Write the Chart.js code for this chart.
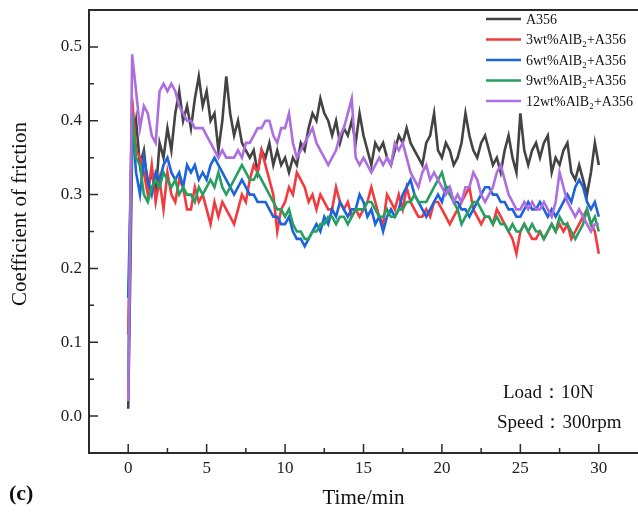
<!DOCTYPE html>
<html>
<head>
<meta charset="utf-8">
<script src="https://cdn.jsdelivr.net/npm/chart.js@4"></script>
<style>
  body { margin: 0; background: #fff; }
</style>
</head>
<body>
<canvas id="frictionChart" width="638" height="516"></canvas>
<script>
  // time step of the recorded curves (min)
  const stepMin = 0.25;

  const seriesNames = ["A356", "3wt%AlB\u2082+A356", "6wt%AlB\u2082+A356", "9wt%AlB\u2082+A356", "12wt%AlB\u2082+A356"];
  const seriesColors = ["#434343", "#f23a3f", "#1c63dc", "#25a05f", "#ad6fe0"];

  const a356 = [
    0.01, 0.36, 0.40, 0.34, 0.36, 0.31, 0.33, 0.30,
    0.37, 0.35, 0.39, 0.36, 0.41, 0.44, 0.40, 0.42,
    0.39, 0.43, 0.46, 0.42, 0.44, 0.40, 0.41, 0.36,
    0.40, 0.46, 0.41, 0.38, 0.40, 0.37, 0.36, 0.35,
    0.36, 0.33, 0.36, 0.35, 0.37, 0.34, 0.36, 0.34,
    0.35, 0.33, 0.35, 0.34, 0.37, 0.36, 0.39, 0.41,
    0.40, 0.43, 0.41, 0.40, 0.38, 0.40, 0.37, 0.39,
    0.38, 0.40, 0.37, 0.41, 0.38, 0.36, 0.34, 0.37,
    0.36, 0.37, 0.35, 0.34, 0.36, 0.38, 0.37, 0.39,
    0.37, 0.36, 0.35, 0.34, 0.37, 0.38, 0.41, 0.36,
    0.35, 0.37, 0.36, 0.34, 0.35, 0.37, 0.41, 0.38,
    0.36, 0.35, 0.37, 0.38, 0.36, 0.34, 0.35, 0.33,
    0.36, 0.38, 0.35, 0.33, 0.41, 0.36, 0.34, 0.36,
    0.37, 0.35, 0.37, 0.38, 0.33, 0.35, 0.34, 0.36,
    0.37, 0.33, 0.32, 0.34, 0.32, 0.30, 0.33, 0.37,
    0.34
  ];
  const alb3 = [
    0.11, 0.43, 0.36, 0.35, 0.33, 0.30, 0.34, 0.29,
    0.32, 0.28, 0.33, 0.30, 0.29, 0.32, 0.31, 0.28,
    0.28, 0.31, 0.29, 0.30, 0.28, 0.26, 0.29, 0.27,
    0.29, 0.28, 0.27, 0.26, 0.28, 0.30, 0.29, 0.32,
    0.34, 0.33, 0.36, 0.34, 0.32, 0.30, 0.25, 0.28,
    0.29, 0.31, 0.30, 0.33, 0.32, 0.31, 0.29, 0.30,
    0.28, 0.30, 0.29, 0.28, 0.28, 0.31, 0.29, 0.28,
    0.29, 0.27, 0.28, 0.27, 0.28, 0.29, 0.31, 0.29,
    0.27, 0.26, 0.30, 0.29, 0.28, 0.30, 0.28, 0.31,
    0.29, 0.28, 0.27, 0.27, 0.28, 0.27, 0.29, 0.29,
    0.28, 0.27, 0.26, 0.27, 0.28, 0.29, 0.30, 0.31,
    0.28, 0.27, 0.26, 0.27, 0.27, 0.26, 0.28, 0.27,
    0.26, 0.25, 0.24, 0.22, 0.25, 0.26, 0.25, 0.24,
    0.24, 0.25, 0.24, 0.25, 0.26, 0.25, 0.26, 0.25,
    0.26, 0.24, 0.25, 0.26, 0.27, 0.28, 0.26, 0.25,
    0.22
  ];
  const alb6 = [
    0.16, 0.40, 0.33, 0.30, 0.35, 0.32, 0.30, 0.33,
    0.32, 0.34, 0.35, 0.33, 0.32, 0.33, 0.31, 0.34,
    0.33, 0.34, 0.32, 0.33, 0.32, 0.34, 0.35, 0.34,
    0.33, 0.32, 0.31, 0.30, 0.31, 0.32, 0.31, 0.30,
    0.30, 0.29, 0.29, 0.29, 0.28, 0.27, 0.27, 0.26,
    0.26, 0.27, 0.25, 0.24, 0.24, 0.23, 0.24, 0.25,
    0.26, 0.25, 0.27, 0.26, 0.28, 0.27, 0.29, 0.28,
    0.27, 0.28, 0.28, 0.30, 0.29, 0.27, 0.28, 0.26,
    0.27, 0.25, 0.27, 0.28, 0.27, 0.28, 0.30, 0.31,
    0.32, 0.30, 0.29, 0.28, 0.27, 0.28, 0.29, 0.30,
    0.29, 0.31, 0.31, 0.29, 0.29, 0.28, 0.28, 0.27,
    0.28, 0.29, 0.30, 0.31, 0.31, 0.30, 0.30, 0.29,
    0.29, 0.28, 0.28, 0.27, 0.27, 0.28, 0.29, 0.28,
    0.28, 0.29, 0.28, 0.27, 0.28, 0.27, 0.28, 0.29,
    0.30, 0.29, 0.31, 0.32, 0.31, 0.29, 0.28, 0.29,
    0.27
  ];
  const alb9 = [
    0.05, 0.41, 0.35, 0.34, 0.30, 0.29, 0.31, 0.32,
    0.31, 0.33, 0.32, 0.31, 0.32, 0.30, 0.31, 0.30,
    0.30, 0.29, 0.31, 0.30, 0.31, 0.32, 0.31, 0.33,
    0.31, 0.30, 0.31, 0.32, 0.33, 0.34, 0.33, 0.32,
    0.32, 0.33, 0.32, 0.31, 0.30, 0.29, 0.28, 0.28,
    0.27, 0.28, 0.26, 0.25, 0.25, 0.24, 0.24, 0.25,
    0.25, 0.26, 0.26, 0.27, 0.27, 0.26, 0.27, 0.27,
    0.26, 0.27, 0.28, 0.28, 0.28, 0.29, 0.29, 0.28,
    0.27, 0.27, 0.28, 0.27, 0.27, 0.28, 0.28, 0.29,
    0.29, 0.30, 0.29, 0.29, 0.29, 0.30, 0.31, 0.32,
    0.33, 0.31, 0.30, 0.29, 0.28, 0.26, 0.27, 0.28,
    0.29, 0.29, 0.28, 0.27, 0.27, 0.26, 0.27, 0.26,
    0.26, 0.25, 0.26, 0.25, 0.25, 0.26, 0.25, 0.26,
    0.25, 0.25, 0.24, 0.25, 0.26, 0.25, 0.27, 0.26,
    0.26, 0.25, 0.24, 0.25, 0.26, 0.28, 0.26, 0.27,
    0.25
  ];
  const alb12 = [
    0.02, 0.49, 0.44, 0.39, 0.42, 0.41, 0.38, 0.37,
    0.44, 0.45, 0.44, 0.45, 0.44, 0.42, 0.41, 0.40,
    0.40, 0.39, 0.39, 0.39, 0.38, 0.37, 0.36, 0.35,
    0.36, 0.35, 0.35, 0.35, 0.36, 0.35, 0.37, 0.37,
    0.38, 0.39, 0.39, 0.40, 0.40, 0.38, 0.37, 0.39,
    0.39, 0.41, 0.37, 0.35, 0.36, 0.37, 0.38, 0.39,
    0.37, 0.36, 0.35, 0.34, 0.35, 0.36, 0.38, 0.39,
    0.41, 0.43, 0.35, 0.34, 0.35, 0.34, 0.33, 0.34,
    0.35, 0.34, 0.35, 0.34, 0.37, 0.36, 0.37, 0.35,
    0.33, 0.32, 0.31, 0.33, 0.34, 0.32, 0.33, 0.32,
    0.31, 0.30, 0.31, 0.29, 0.30, 0.29, 0.31, 0.31,
    0.33, 0.32, 0.30, 0.29, 0.30, 0.31, 0.33, 0.34,
    0.32, 0.30, 0.29, 0.28, 0.28, 0.29, 0.28, 0.29,
    0.28, 0.28, 0.29, 0.28, 0.27, 0.29, 0.33, 0.31,
    0.29, 0.28, 0.27, 0.28, 0.27, 0.26, 0.25, 0.26,
    0.26
  ];

  const xTicks = [0, 5, 10, 15, 20, 25, 30];
  const xMinorTicks = [2.5, 7.5, 12.5, 17.5, 22.5, 27.5];
  const yTicks = [0, 0.1, 0.2, 0.3, 0.4, 0.5];
  const yMinorTicks = [0.05, 0.15, 0.25, 0.35, 0.45];

  const allSeries = [a356, alb3, alb6, alb9, alb12];
  const serif = "'Liberation Serif', 'Times New Roman', serif";
  const axisColor = "#2b2b2b";

  function toPoints(vals) {
    return vals.map((v, i) => ({ x: i * stepMin, y: v }));
  }

  const datasets = allSeries.map((vals, k) => ({
    label: seriesNames[k],
    data: toPoints(vals),
    borderColor: seriesColors[k],
    borderWidth: 2.6,
    pointRadius: 0,
    tension: 0,
    fill: false,
    order: allSeries.length - k   // last series drawn on top
  }));

  // frame top line, inward ticks, legend, notes and titles
  const decorPlugin = {
    id: 'decor',
    afterDraw(chart) {
      const ctx = chart.ctx;
      const area = chart.chartArea;
      const xs = chart.scales.x, ys = chart.scales.y;
      ctx.save();
      ctx.strokeStyle = axisColor;
      ctx.lineWidth = 2;
      ctx.beginPath();
      ctx.moveTo(area.left - 1, area.top);
      ctx.lineTo(area.right + 2, area.top);
      ctx.stroke();

      ctx.lineWidth = 1.5;
      ctx.beginPath();
      xTicks.forEach(v => { const px = xs.getPixelForValue(v); ctx.moveTo(px, area.bottom); ctx.lineTo(px, area.bottom - 9); });
      xMinorTicks.forEach(v => { const px = xs.getPixelForValue(v); ctx.moveTo(px, area.bottom); ctx.lineTo(px, area.bottom - 5); });
      yTicks.forEach(v => { const py = ys.getPixelForValue(v); ctx.moveTo(area.left, py); ctx.lineTo(area.left + 9, py); });
      yMinorTicks.forEach(v => { const py = ys.getPixelForValue(v); ctx.moveTo(area.left, py); ctx.lineTo(area.left + 5, py); });
      ctx.stroke();

      // legend inside the plot
      ctx.font = "14px " + serif;
      ctx.textBaseline = "middle";
      ctx.textAlign = "left";
      chart.data.datasets.forEach((ds, i) => {
        const y = 19 + i * 20.5;
        ctx.strokeStyle = ds.borderColor;
        ctx.lineWidth = 2.4;
        ctx.beginPath();
        ctx.moveTo(486, y);
        ctx.lineTo(521, y);
        ctx.stroke();
        ctx.fillStyle = "#111";
        ctx.fillText(ds.label, 526, y + 1);
      });

      // test conditions
      ctx.font = "19px " + serif;
      ctx.fillStyle = "#111";
      ctx.fillText("Load\uFF1A10N", 503, 393);
      ctx.fillText("Speed\uFF1A300rpm", 497, 423);

      // axis titles
      ctx.font = "21px " + serif;
      ctx.textAlign = "center";
      ctx.fillText("Time/min", (area.left + area.right) / 2, 498);
      ctx.save();
      ctx.translate(20, 214);
      ctx.rotate(-Math.PI / 2);
      ctx.fillText("Coefficient of friction", 0, 0);
      ctx.restore();

      ctx.font = "bold 22px " + serif;
      ctx.textAlign = "left";
      ctx.fillText("(c)", 9, 494);
      ctx.restore();
    }
  };

  const ctx = document.getElementById("frictionChart").getContext("2d");
  new Chart(ctx, {
    type: 'line',
    data: { datasets: datasets },
    options: {
      responsive: false,
      animation: false,
      layout: { padding: { top: 10, right: 0, left: 0, bottom: 0 } },
      plugins: { legend: { display: false }, tooltip: { enabled: false } },
      scales: {
        x: {
          type: 'linear',
          min: -2.5,
          max: 32.5,
          afterBuildTicks: s => { s.ticks = xTicks.map(v => ({ value: v })); },
          afterFit: s => { s.height = 63; s.paddingLeft = 0; s.paddingRight = 0; },
          ticks: {
            color: "#222",
            font: { family: serif, size: 17 },
            padding: 5,
            callback: v => String(v)
          },
          grid: { display: true, drawOnChartArea: false, drawTicks: false },
          border: { display: true, color: axisColor, width: 2 }
        },
        y: {
          min: -0.05,
          max: 0.55,
          afterBuildTicks: s => { s.ticks = yTicks.map(v => ({ value: v })); },
          afterFit: s => { s.width = 89; s.paddingTop = 0; s.paddingBottom = 0; },
          ticks: {
            color: "#222",
            font: { family: serif, size: 17 },
            padding: 7,
            callback: v => Number(v).toFixed(1)
          },
          grid: { display: true, drawOnChartArea: false, drawTicks: false },
          border: { display: true, color: axisColor, width: 2 }
        }
      }
    },
    plugins: [decorPlugin]
  });
</script>
</body>
</html>
